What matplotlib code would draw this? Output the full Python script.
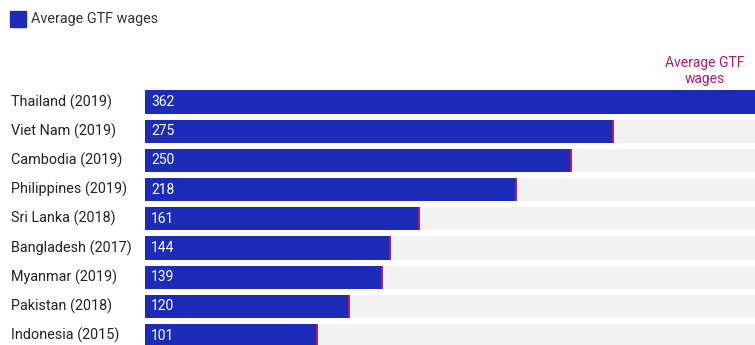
import numpy as np
import matplotlib.pyplot as plt

countries = ['Thailand (2019)', 'Viet Nam (2019)', 'Cambodia (2019)', 'Philippines (2019)',
             'Sri Lanka (2018)', 'Bangladesh (2017)', 'Myanmar (2019)', 'Pakistan (2018)',
             'Indonesia (2015)']
wages = [362, 275, 250, 218, 161, 144, 139, 120, 101]

blue = '#1c2bb8'
pink = '#b0196e'
grey = '#f2f2f2'

plt.rcParams['font.family'] = ['Roboto', 'DejaVu Sans']

fig = plt.figure(figsize=(7.55, 3.45), dpi=100)
W, H = 755, 345
x0 = 145.3
ax = fig.add_axes([x0 / W, 0, 1 - x0 / W, 1])
xmax = (W - x0) / 1.701
pitch = 29.2
ax.set_xlim(0, xmax)
ax.set_ylim((H - 102) / pitch, -102 / pitch)
ax.axis('off')

y = np.arange(len(countries))
h = 0.79
ax.barh(y, [xmax] * len(y), height=h, color=grey, left=0)
ax.barh(y, wages, height=h, color=blue)
ax.vlines(wages, y - h / 2, y + h / 2, colors=pink, linewidth=1.4)

for yi, v, c in zip(y, wages, countries):
    ax.text(3.5, yi, str(v), color='white', fontsize=10, va='center', ha='left')
    fig.text(11 / W, 1 - (102 + pitch * yi) / H, c, color='#222222', fontsize=10.4,
             va='center', ha='left')

fig.text(705 / W, 1 - 71 / H, 'Average GTF\nwages', color=pink, fontsize=10,
         ha='center', va='center', linespacing=1.15)

# legend
fig.patches.append(plt.Rectangle((10 / W, 1 - 27 / H), 16 / W, 16 / H, color=blue,
                                 transform=fig.transFigure, figure=fig))
fig.text(31 / W, 1 - 18.5 / H, 'Average GTF wages', color='#333333', fontsize=10.4,
         va='center', ha='left')

fig.savefig('out.png', dpi=100)
